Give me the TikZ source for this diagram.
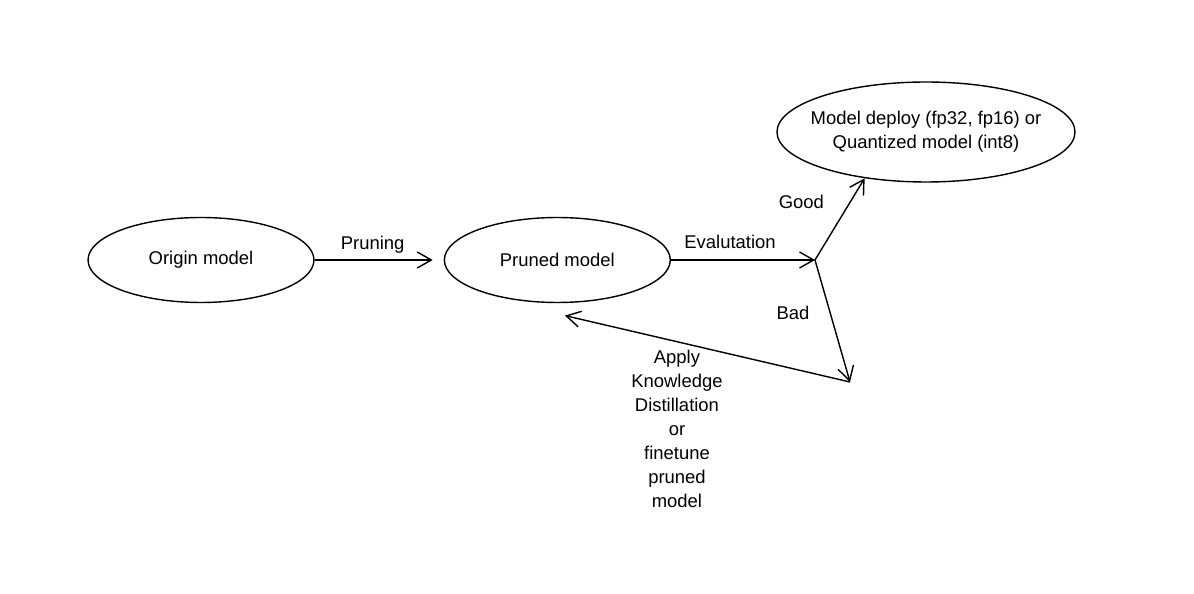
\documentclass[tikz,border=0pt]{standalone}
\usepackage{fontspec}
\setmainfont{Liberation Sans}
\usetikzlibrary{shapes.geometric,arrows.meta,positioning}
\tikzstyle{state} = [draw, ellipse, line width=0.8pt, minimum width=4.52cm, minimum height=1.7cm, inner sep=0pt]
\tikzstyle{flow} = [->, line width=0.8pt]
\tikzstyle{tag} = [align=center]
\begin{document}
\begin{tikzpicture}[x=0.02cm, y=-0.02cm, node distance=2.58cm, >={Straight Barb[length=0.28cm,width=0.32cm]}, font=\fontsize{10.5}{13.6}\selectfont]
\useasboundingbox (0,0) rectangle (1194,594);

\node [state] (origin) at (201,260) {Origin model};
\node [state, right=of origin] (pruned) {Pruned model};
\node [state, minimum width=5.96cm, minimum height=2cm, inner xsep=-0.2cm, align=center] (deploy) at (926,132) {Model deploy (fp32, fp16) or\\Quantized model (int8)};

\coordinate (judge) at (815,260);
\coordinate (retry) at (850,382);
\coordinate [yshift=-0.25cm] (back) at (pruned.-80);

\draw [flow, shorten >=0.22cm] (origin) -- node [tag, xshift=-0.13cm, yshift=0.3cm] {Pruning} (pruned);
\draw [flow] (pruned) -- node [tag, xshift=-0.26cm, yshift=0.37cm] {Evalutation} (judge);
\draw [flow] (judge) -- node [tag, xshift=-0.77cm, yshift=0.35cm] {Good} (deploy.217);
\draw [flow] (judge) -- node [tag, xshift=-0.79cm, yshift=0.16cm] {Bad} (retry);
\draw [flow] (retry) -- node [tag, xshift=-0.61cm, yshift=-1.6cm] {Apply\\Knowledge\\Distillation\\or\\finetune\\pruned\\model} (back);
\end{tikzpicture}
\end{document}
